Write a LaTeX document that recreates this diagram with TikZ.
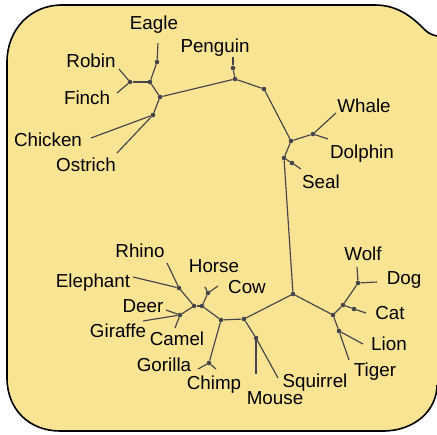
\documentclass[tikz,border=0pt]{standalone}
\usepackage{fontspec}
\setmainfont{Liberation Sans}
\definecolor{paper}{RGB}{249,228,148}
\definecolor{twig}{RGB}{68,68,74}

\begin{document}
\begin{tikzpicture}[
  x=1pt, y=-1pt,
  taxon/.style={anchor=base, inner sep=0pt, font=\fontsize{18.8}{22}\selectfont},
  fork/.style={circle, fill=twig, inner sep=0pt, minimum size=4.6pt},
  twigline/.style={draw=twig, line width=1.15pt}
]
  \useasboundingbox (0,0) rectangle (437,435);

  % card
  \fill[paper] (7,62) .. controls (7,30) and (30,5) .. (62,5) -- (375,5)
    .. controls (400,5) and (415,20) .. (425,30) .. controls (429,34) and (433,35) .. (437,36)
    -- (437,385) .. controls (437,410) and (415,431) .. (383,431)
    -- (60,431) .. controls (30,431) and (7,410) .. (7,378) -- cycle;
  \draw[line width=1.6pt] (437,385) .. controls (437,410) and (415,431) .. (383,431)
    -- (60,431) .. controls (30,431) and (7,410) .. (7,378) -- (7,62)
    .. controls (7,30) and (30,5) .. (62,5) -- (375,5)
    .. controls (400,5) and (415,20) .. (425,30) .. controls (429,34) and (433,35) .. (437,36);

  % labels
  \node[taxon] (eagle) at (154,30) {Eagle};
  \node[taxon] (robin) at (91,68) {Robin};
  \node[taxon] (finch) at (87,105) {Finch};
  \node[taxon] (chicken) at (48,147) {Chicken};
  \node[taxon] (ostrich) at (86,172) {Ostrich};
  \node[taxon] (penguin) at (215,53) {Penguin};
  \node[taxon] (whale) at (364,113) {Whale};
  \node[taxon] (dolphin) at (362,159) {Dolphin};
  \node[taxon] (seal) at (321,189) {Seal};
  \node[taxon] (wolf) at (363,261) {Wolf};
  \node[taxon] (dog) at (404,285) {Dog};
  \node[taxon] (cat) at (390,320) {Cat};
  \node[taxon] (lion) at (389,351) {Lion};
  \node[taxon] (tiger) at (375,377) {Tiger};
  \node[taxon] (squirrel) at (315,388) {Squirrel};
  \node[taxon] (mouse) at (275,405) {Mouse};
  \node[taxon] (chimp) at (214,390) {Chimp};
  \node[taxon] (gorilla) at (164,372) {Gorilla};
  \node[taxon] (giraffe) at (118,338) {Giraffe};
  \node[taxon] (camel) at (177,346) {Camel};
  \node[taxon] (deer) at (143,313) {Deer};
  \node[taxon] (elephant) at (93,288) {Elephant};
  \node[taxon] (rhino) at (140,258) {Rhino};
  \node[taxon] (horse) at (214,273) {Horse};
  \node[taxon] (cow) at (247,294) {Cow};

  % tips
  \coordinate (eagle-t) at (158,43);
  \coordinate (robin-t) at (119,69);
  \coordinate (finch-t) at (117,93);
  \coordinate (chicken-t) at (91,138);
  \coordinate (ostrich-t) at (117,153);
  \coordinate (penguin-t) at (233,57);
  \coordinate (whale-t) at (336,113);
  \coordinate (dolphin-t) at (328,139);
  \coordinate (seal-t) at (301,169);
  \coordinate (wolf-t) at (357,267);
  \coordinate (dog-t) at (377,282);
  \coordinate (cat-t) at (366,313);
  \coordinate (lion-t) at (363,344);
  \coordinate (tiger-t) at (349,360);
  \coordinate (squirrel-t) at (278,378);
  \coordinate (mouse-t) at (256,374);
  \coordinate (chimp-t) at (216,369);
  \coordinate (gorilla-t) at (198,369);
  \coordinate (horse-t) at (205,287);
  \coordinate (cow-t) at (218,286);
  \coordinate (rhino-t) at (167,263);
  \coordinate (elephant-t) at (133,277);
  \coordinate (deer-t) at (166,310);
  \coordinate (giraffe-t) at (143,321);
  \coordinate (camel-t) at (175,328);

  % inner forks
  \node[fork] (B1) at (157,62) {};
  \node[fork] (B2) at (150,82) {};
  \node[fork] (RF) at (130,82) {};
  \node[fork] (B3) at (160,97) {};
  \node[fork] (CO) at (153,115) {};
  \node[fork] (P1) at (233,68) {};
  \node[fork] (P2) at (235,79) {};
  \node[fork] (M1) at (264,89) {};
  \node[fork] (M2) at (291,141) {};
  \node[fork] (WD) at (313,134) {};
  \node[fork] (M3) at (284,158) {};
  \node[fork] (SE) at (292,163) {};
  \node[fork] (R) at (293,294) {};
  \node[fork] (C1) at (333,315) {};
  \node[fork] (C2) at (343,305) {};
  \node[fork] (WO) at (358,283) {};
  \node[fork] (CA) at (354,309) {};
  \node[fork] (LT) at (339,331) {};
  \node[fork] (U1) at (244,319) {};
  \node[fork] (MS) at (256,338) {};
  \node[fork] (U2) at (221,320) {};
  \node[fork] (GC) at (209,363) {};
  \node[fork] (U3) at (202,306) {};
  \node[fork] (HC) at (208,293) {};
  \node[fork] (U4) at (194,306) {};
  \node[fork] (ER) at (179,288) {};
  \node[fork] (DG) at (180,315) {};

  \path[twigline]
    (B1) edge (eagle-t)
    (B1) edge (B2)
    (RF) edge (robin-t)
    (RF) edge (finch-t)
    (RF) edge (B2)
    (B2) edge (B3)
    (B3) edge (P2)
    (B3) edge (CO)
    (CO) edge (chicken-t)
    (CO) edge (ostrich-t)
    (P2) edge (P1)
    (P1) edge (penguin-t)
    (P2) edge (M1)
    (M1) edge (M2)
    (M2) edge (WD)
    (WD) edge (whale-t)
    (WD) edge (dolphin-t)
    (M2) edge (M3)
    (M3) edge (SE)
    (SE) edge (seal-t)
    (M3) edge (R)
    (R) edge (C1)
    (C1) edge (C2)
    (C2) edge (WO)
    (WO) edge (wolf-t)
    (WO) edge (dog-t)
    (C2) edge (CA)
    (CA) edge (cat-t)
    (C1) edge (LT)
    (LT) edge (lion-t)
    (LT) edge (tiger-t)
    (R) edge (U1)
    (U1) edge (MS)
    (MS) edge (squirrel-t)
    (MS) edge (mouse-t)
    (U1) edge (U2)
    (U2) edge (GC)
    (GC) edge (chimp-t)
    (GC) edge (gorilla-t)
    (U2) edge (U3)
    (U3) edge (HC)
    (HC) edge (horse-t)
    (HC) edge (cow-t)
    (U3) edge (U4)
    (U4) edge (ER)
    (ER) edge (rhino-t)
    (ER) edge (elephant-t)
    (U4) edge (DG)
    (DG) edge (deer-t)
    (DG) edge (giraffe-t)
    (DG) edge (camel-t);
\end{tikzpicture}
\end{document}
